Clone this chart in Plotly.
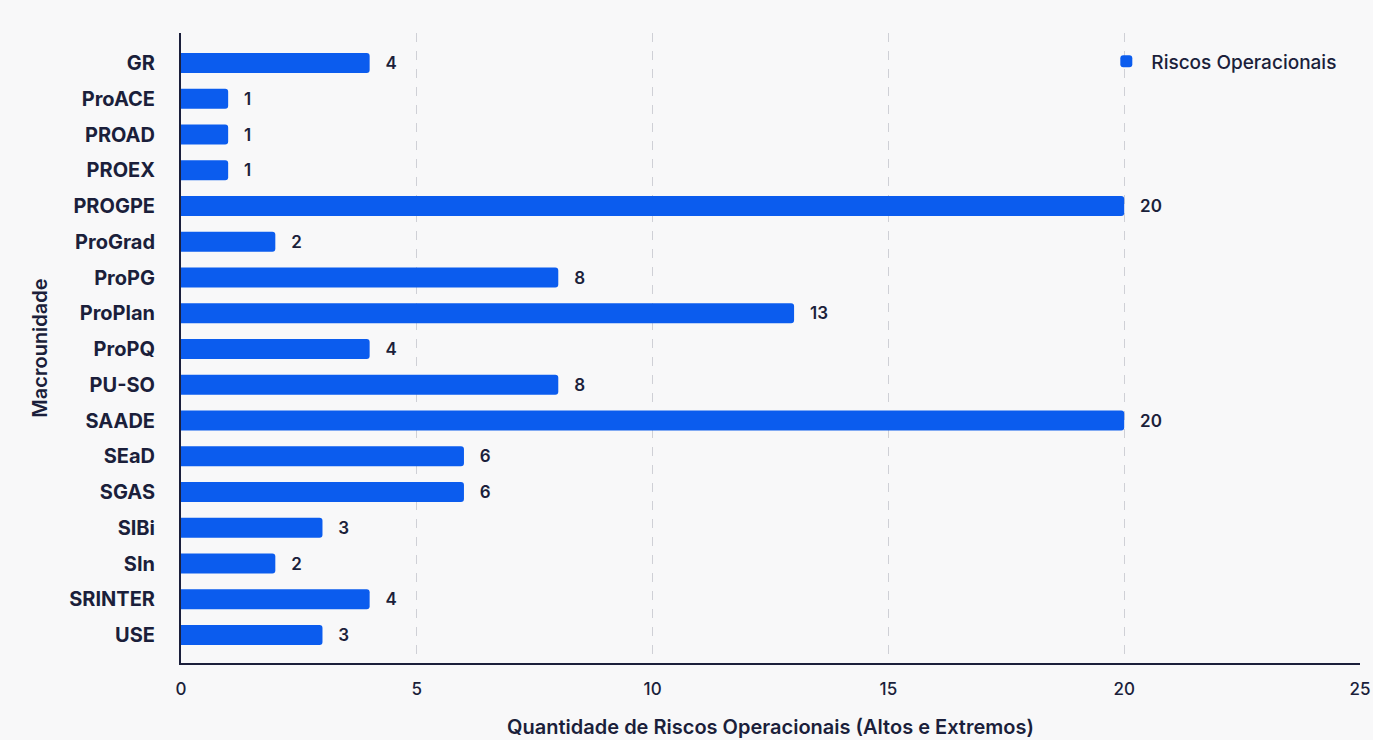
import plotly.graph_objects as go

categories = ["GR", "ProACE", "PROAD", "PROEX", "PROGPE", "ProGrad", "ProPG", "ProPlan",
              "ProPQ", "PU-SO", "SAADE", "SEaD", "SGAS", "SIBi", "SIn", "SRINTER", "USE"]
values = [4, 1, 1, 1, 20, 2, 8, 13, 4, 8, 20, 6, 6, 3, 2, 4, 3]
series_name = "Riscos Operacionais"
x_ticks = [0, 5, 10, 15, 20, 25]

NAVY = "#1b1f3b"
BLUE = "#0b5cee"
BG = "#f8f8f9"
FONT = "Inter, 'Open Sans', sans-serif"

fig = go.Figure()
fig.add_trace(go.Bar(
    y=categories, x=values, orientation="h", name=series_name,
    marker=dict(color=BLUE, line=dict(width=0)),
    width=0.56,
    text=values, texttemplate="   %{x}", textposition="outside",
    textfont=dict(family=FONT, size=17, color=NAVY, weight=600),
    cliponaxis=False, showlegend=True,
))

fig.update_layout(
    width=1373, height=740,
    margin=dict(l=181, r=13, t=33, b=77),
    paper_bgcolor=BG, plot_bgcolor=BG,
    font=dict(family=FONT, color=NAVY),
    barcornerradius=3,
    showlegend=True,
    legend=dict(x=0.985, y=0.985, xanchor="right", yanchor="top", itemwidth=40,
                bgcolor="rgba(0,0,0,0)", font=dict(size=19, color=NAVY, weight=500)),
    xaxis=dict(
        range=[0, 25], tickvals=x_ticks, ticktext=[str(t) for t in x_ticks],
        showgrid=True, gridcolor="#cfd0d6", griddash="dash", gridwidth=1,
        zeroline=False, showline=True, linecolor=NAVY, linewidth=2,
        ticks="", ticklabelstandoff=10,
        tickfont=dict(size=17, color=NAVY, weight=500),
        title=dict(text="Quantidade de Riscos Operacionais (Altos e Extremos)",
                   font=dict(size=20, color=NAVY, weight=600), standoff=22),
        automargin=False,
    ),
    yaxis=dict(
        categoryorder="array", categoryarray=categories,
        range=[16.78, -0.84],
        showgrid=False, zeroline=False, showline=True, linecolor=NAVY, linewidth=2,
        ticks="", ticklabelstandoff=20,
        tickfont=dict(size=20, color=NAVY, weight=700),
        title=dict(text="Macrounidade", font=dict(size=20, color=NAVY, weight=600), standoff=16),
        automargin=False,
    ),
)

fig.write_html("out.html")
